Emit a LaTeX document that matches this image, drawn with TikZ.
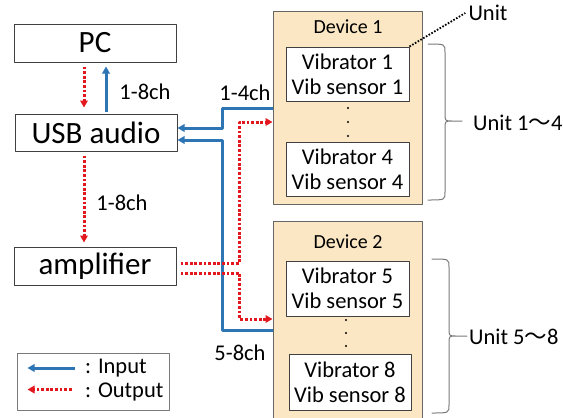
\documentclass[tikz,border=0pt]{standalone}
\usepackage{fontspec}
\setmainfont{Carlito}
\newfontfamily\cjk{Noto Sans CJK JP}
\usetikzlibrary{arrows.meta}
\definecolor{inblue}{HTML}{2E75B6}
\definecolor{outred}{HTML}{E3171E}
\definecolor{devfill}{HTML}{FBE7C3}
\definecolor{edge}{HTML}{404040}
\tikzset{
  every picture/.style={line join=round, >=Stealth},
  blockbox/.style={draw=edge, line width=1pt, fill=white, inner sep=0pt, minimum width=162pt, minimum height=38pt, font=\fontsize{31}{34}\selectfont},
  devbox/.style={draw=edge!80, line width=1pt, fill=devfill, minimum width=149pt},
  unitbox/.style={draw=edge, line width=0.9pt, fill=white, inner sep=0pt, minimum width=123pt, minimum height=54pt, align=center, font=\fontsize{22.5}{25}\selectfont},
  lbl/.style={inner sep=0pt, font=\fontsize{22.5}{25}\selectfont},
  devlbl/.style={inner sep=0pt, font=\fontsize{20}{22}\selectfont},
  inp/.style={draw=inblue, line width=3pt, -{Triangle[length=7pt,width=7.5pt]}},
  outp/.style={draw=outred, line width=3pt, dash pattern=on 2.8pt off 1.8pt, -{Triangle[length=7pt,width=7.5pt]}},
  brc/.style={draw=edge!70, line width=1pt, line cap=round},
  dotline/.style={draw=black, line width=1.8pt, dash pattern=on 1.6pt off 1.6pt},
}

\begin{document}
\begin{tikzpicture}[x=1pt,y=-1pt]
\useasboundingbox (0,0) rectangle (563,418);
\node[blockbox] (pc) at (95,43) {PC};
\node[blockbox,minimum height=37pt] (usb) at (96,132.5) {USB audio};
\node[blockbox] (amp) at (95,266) {amplifier};
\node[devbox,minimum height=193pt] (dev1) at (347.5,107.5) {};
\node[devbox,minimum height=210pt] (dev2) at (347.5,326) {};
\node[devlbl] (dev1t) at (348,27) {Device 1};
\node[devlbl] (dev2t) at (348,242) {Device 2};
\node[unitbox] (vib1) at (347.5,74) {Vibrator 1\\Vib sensor 1};
\node[unitbox] (vib4) at (347.5,169) {Vibrator 4\\Vib sensor 4};
\node[unitbox,minimum height=55pt] (vib5) at (347.5,288.5) {Vibrator 5\\Vib sensor 5};
\node[unitbox,minimum width=122pt,minimum height=56pt] (vib8) at (350,382) {Vibrator 8\\Vib sensor 8};
\foreach \y in {108,122,136} \fill (348,\y) circle (1.1pt);
\foreach \y in {320,333,346} \fill (346,\y) circle (1.1pt);
\draw[outp] ([xshift=-11pt,yshift=-4pt]pc.south) -- ([xshift=-12pt,yshift=6pt]usb.north);
\draw[inp] ([xshift=10pt,yshift=2pt]usb.north) -- ([xshift=11pt,yshift=-4pt]pc.south);
\draw[outp] ([xshift=-12pt,yshift=-4pt]usb.south) -- ([xshift=-11pt,yshift=4pt]amp.north);
\draw[inp] ([yshift=-0.5pt]dev1.west) -- ++(-50,0) |- ([yshift=4.5pt]usb.east);
\draw[inp] ([yshift=-4pt]dev2.west) -- ++(-50,0) |- ([yshift=-7.5pt]usb.east);
\draw[outp] ([xshift=4pt,yshift=3pt]amp.east) -- ++(59,0) |- ([yshift=-14.5pt]dev1.west);
\draw[outp] ([xshift=4pt,yshift=-7pt]amp.east) -- ++(59,0) |- ([yshift=7pt]dev2.west);
\node[lbl] (ch1) at (145,92) {1-8ch};
\node[lbl] (ch2) at (122,203) {1-8ch};
\node[lbl] (ch3) at (245,93) {1-4ch};
\node[lbl] (ch4) at (240,353) {5-8ch};
\node[lbl] (unit) at (488,13) {Unit};
\draw[dotline] (vib1.north east) -- ([xshift=-3pt]unit.west);
\draw[brc] (428,44) .. controls (445,44) .. (445,52) -- (445,113) .. controls (445,121) .. (452,121) -- (462,121)
  (452,121) .. controls (445,121) .. (445,129) -- (445,192) .. controls (445,200) .. (428,200);
\draw[brc] (432,259) .. controls (449,259) .. (449,267) -- (449,328) .. controls (449,336) .. (456,336) -- (467,336)
  (456,336) .. controls (449,336) .. (449,344) -- (449,405) .. controls (449,413) .. (432,413);
\node[lbl,anchor=west] (u14) at (473,123) {Unit 1{\cjk ～}4};
\node[lbl,anchor=west] (u58) at (469,337) {Unit 5{\cjk ～}8};
\node[draw=edge!70, line width=1pt, minimum width=152pt, minimum height=57pt, inner sep=0pt] (leg) at (93,381.5) {};
\draw[inp] ([xshift=58pt,yshift=13.5pt]leg.west) -- ([xshift=11pt,yshift=13.5pt]leg.west);
\draw[outp] ([xshift=55pt,yshift=-8pt]leg.west) -- ([xshift=11pt,yshift=-8pt]leg.west);
\node[lbl,anchor=west] (linp) at (85,368) {: Input};
\node[lbl,anchor=west] (lout) at (85,392) {: Output};
\end{tikzpicture}
\end{document}
